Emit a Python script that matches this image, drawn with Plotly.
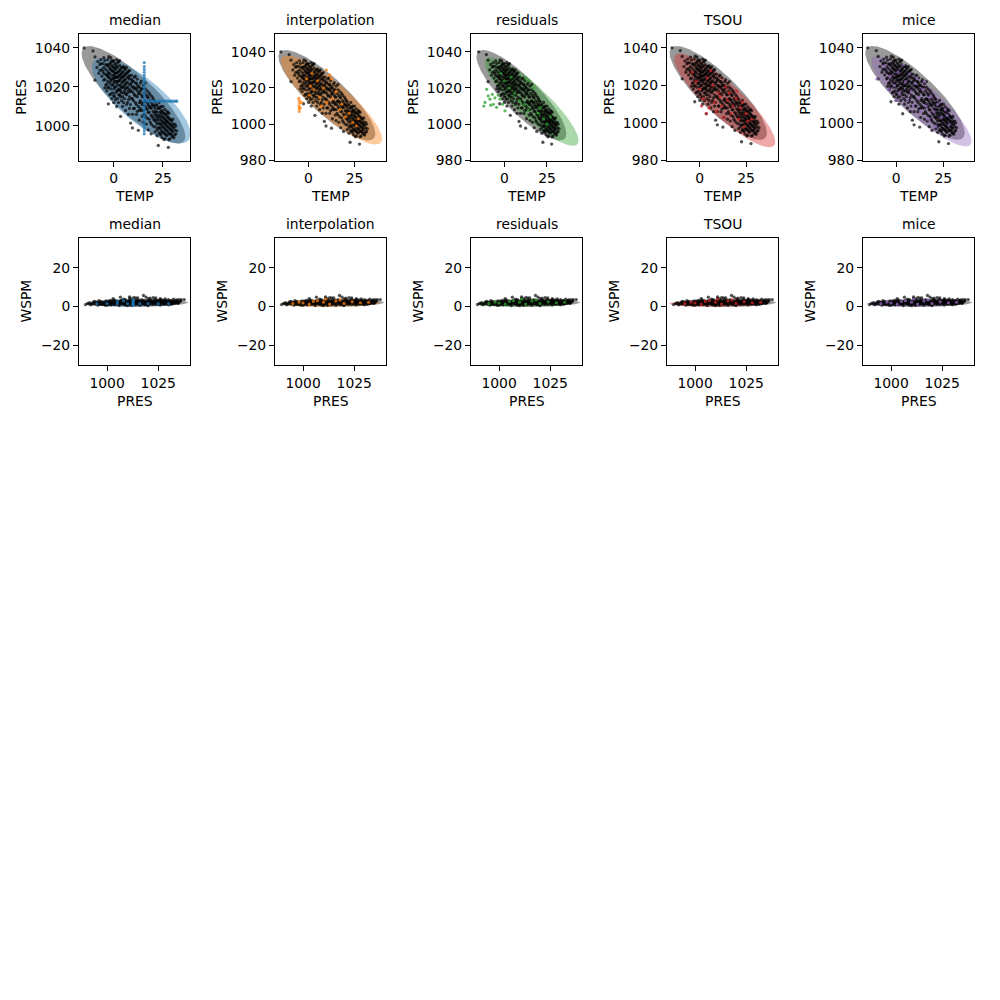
import numpy as np
import plotly.graph_objects as go

# ---------------- data ----------------
METHODS = ["median", "interpolation", "residuals", "TSOU", "mice"]
COLORS = ["#1f77b4", "#ff7f0e", "#2ca02c", "#d62728", "#9467bd"]

# observed (TEMP, PRES)
OBS_TEMP_PRES = [
    (-15.0, 1040.0), (-10.5, 1038.5), (-9.5, 1035.4), (-9.5, 1023.5), (-8, 1033), (-7, 1031.5), (-6.5, 1034),
    (-6, 1029), (-7.5, 1027), (-6, 1025.5),
    (-5.5, 1032), (-5, 1030), (-5, 1027), (-4.5, 1033.5), (-4.5, 1024), (-4, 1029), (-4, 1021), (-3.5, 1031),
    (-3.5, 1026), (-3.5, 1018), (-3, 1034), (-3, 1028), (-3, 1023), (-2.5, 1030.5), (-2.5, 1025), (-2.5, 1020),
    (-2.7, 1011.3), (-2, 1032), (-2, 1027), (-2, 1016),
    (-1.5, 1035), (-1.5, 1029), (-1.5, 1023), (-1.5, 1019), (-1, 1031), (-1, 1026), (-1, 1021), (-1, 1014),
    (-0.5, 1033), (-0.5, 1028), (-0.5, 1024), (-0.5, 1017), (0, 1030), (0, 1026), (0, 1022), (0, 1019), (0, 1012),
    (0.5, 1032), (0.5, 1027), (0.5, 1023), (0.5, 1015), (1, 1029), (1, 1025), (1, 1020), (1, 1017), (1.5, 1034),
    (1.5, 1027), (1.5, 1022), (1.5, 1018), (1.5, 1010), (2, 1030), (2, 1025), (2, 1021), (2, 1014),
    (2.5, 1028), (2.5, 1023), (2.5, 1019), (2.5, 1012), (3, 1031), (3, 1026), (3, 1021), (3, 1016), (3.5, 1004.9),
    (3.5, 1029), (3.5, 1024), (3.5, 1018), (4, 1027), (4, 1022), (4, 1013), (4.5, 1030), (4.5, 1025), (4.5, 1020),
    (4.5, 1010), (5, 1028), (5, 1023), (5, 1017), (5.5, 1026), (5.5, 1021), (5.5, 1014), (6, 1029), (6, 1024),
    (6, 1019), (6, 1008),
    (6.5, 1027), (6.5, 1022), (6.5, 1016), (7, 1025), (7, 1020), (7, 1012), (7.5, 1028), (7.5, 1018), (7.5, 1006),
    (8, 1024), (8, 1015), (8.6, 1001.5), (8.5, 1021), (8.5, 1011), (9, 1026), (9, 1018), (9.5, 999), (9.5, 1023),
    (9.5, 1014), (10, 1020), (10, 1009),
    (10.5, 1025), (10.5, 1016), (11, 1022), (11, 1012), (11.5, 1019), (11.5, 1006), (12, 1024), (12, 1015),
    (12.5, 997.8), (12.5, 1020), (12.5, 1010), (13, 1017), (13, 1003), (13.5, 1022), (13.5, 1013), (14, 1019),
    (14, 1008), (14.5, 1015), (15, 1021), (15, 1011), (15, 1002),
    (15.5, 1017), (15.5, 1006), (16, 1013), (16, 1019), (16.5, 1009), (16.5, 1001), (17, 1015), (17, 1004),
    (17.5, 1011), (17.5, 998), (18, 1017), (18, 1007), (18.5, 1013), (18.5, 1002), (19, 1009), (19, 996),
    (19.5, 1015), (19.5, 1005), (20, 1011), (20, 1000), (20.5, 1007), (20.5, 1013),
    (21, 1003), (21, 1009), (21, 997), (21.5, 1011), (21.5, 1005), (22, 1001), (22, 1007), (22, 995), (22.6, 990),
    (22.5, 1009), (22.5, 1003), (23, 999), (23, 1005), (23, 1012), (23.5, 1001), (23.5, 996), (23.5, 1007),
    (24, 1003), (24, 998), (24, 1010), (24.5, 1005), (24.5, 1000), (24.5, 994), (25, 1002), (25, 1007), (25, 997),
    (25.5, 1004), (25.5, 999), (25.5, 993), (26, 1001), (26, 1006), (26, 996), (26.5, 1003), (26.5, 998),
    (27, 1000), (27, 1005), (27, 995), (27.7, 989), (27.5, 1002), (27.5, 997), (28, 999), (28, 1004), (28, 993),
    (28.5, 1001), (28.5, 996), (29, 998), (29, 1003), (29.5, 995), (29.5, 1000), (30, 997), (30, 1001),
    (30.5, 994), (31, 998), (31.5, 996),
    (-4, 1031.5), (-3, 1025.5), (-2, 1022), (-1, 1028.5), (0, 1033.5), (0, 1024.5), (0.5, 1020), (1, 1031.5),
    (1, 1023), (2, 1027.5), (2, 1018), (2.5, 1033), (3, 1028.5), (3, 1023.5), (3.5, 1020.5), (4, 1025), (4, 1017),
    (4.5, 1027.5), (5, 1020), (5.5, 1029.5), (5.5, 1018), (6, 1026.5), (6, 1021.5), (7, 1027.5), (7, 1017),
    (8, 1026), (8, 1019), (9, 1022), (10, 1017), (11, 1019.5),
    (18, 1010), (19, 1012), (20, 1004), (20.5, 1010), (21, 1006), (22, 1004), (22.5, 999), (23, 1009),
    (23.5, 1004), (24, 1006), (24.5, 1008), (25, 1004.5), (25.5, 1001.5), (26, 1003.5), (26.5, 1000.5),
    (26.5, 1006), (27, 1002.5), (27.5, 1007), (28, 1001.5), (28.5, 998.5), (29, 1000.5), (30, 999), (31, 1001),
    (24, 995.5), (26, 993.5),
    (12, 1018), (13, 1012), (14, 1016), (14.5, 1011), (15, 1008), (16, 1010), (17, 1012), (17.5, 1007),
    (13.5, 1009), (16.5, 1016),
    (-8.5, 1030), (-7, 1028.5), (-6.5, 1032), (-5.5, 1028), (-5, 1023.5), (-5, 1035), (-4.5, 1019.5),
    (-4, 1026.5), (-3.5, 1021.5), (-3, 1031.5), (-3, 1019.5), (-2.5, 1035.5), (-2.5, 1027), (-2, 1024.5),
    (-2, 1029.5), (-1.5, 1032.5), (-1.5, 1016.5), (-1, 1024), (-1, 1033.5), (-0.5, 1021), (-0.5, 1030.5),
    (0, 1028), (0, 1015.5), (0.5, 1025), (0.5, 1029.5), (1, 1027), (1, 1013.5), (1.5, 1025), (1.5, 1030.5),
    (2, 1023), (2, 1032.5), (2.5, 1025.5), (2.5, 1016), (3, 1033.5), (3, 1018.5), (3.5, 1026.5), (3.5, 1015),
    (4, 1030), (4, 1019.5), (4.5, 1022.5), (4.5, 1015), (5, 1025.5), (5, 1030.5), (5, 1012), (5.5, 1023.5),
    (6, 1016.5), (6.5, 1030), (6.5, 1019.5), (6.5, 1011), (7, 1022.5), (7.5, 1025), (7.5, 1013.5), (8, 1028.5),
    (8, 1021.5), (8, 1009), (8.5, 1017.5), (9, 1024), (9, 1014), (9.5, 1020), (9.5, 1006), (10, 1023),
    (10, 1013), (10.5, 1019), (10.5, 1009), (11, 1025.5), (11, 1015.5), (11.5, 1022), (11.5, 1011), (12, 1021),
    (12, 1007.5), (12.5, 1016.5), (13, 1020), (13, 1008), (13.5, 1018), (14, 1023), (14, 1012), (14.5, 1019),
    (14.5, 1005), (15, 1015), (15.5, 1012.5), (16, 1022), (16, 1005), (16.5, 1012.5), (17, 1018), (17, 1008.5),
    (17.5, 1014.5), (18, 1003.5), (18.5, 1009.5), (18.5, 1016), (19, 1005.5), (19, 1001), (19.5, 1010.5),
    (20, 1007.5), (20, 1014), (20.5, 1003), (21, 999.5), (21, 1012.5), (21.5, 1007.5), (21.5, 1002),
    (22, 1010.5), (22, 998), (22.5, 1005.5), (23, 1001.5), (23, 996.5), (23.5, 1009.5), (23.5, 999),
    (24, 1001), (24, 1007.5), (24.5, 1002.5), (24.5, 997), (25, 999.5), (25, 1010), (25.5, 1006.5),
    (25.5, 996.5), (26, 998.5), (26, 1008.5), (26.5, 1002), (26.5, 995.5), (27, 997.5), (27, 1007.5),
    (27.5, 999.5), (27.5, 1004.5), (28, 996), (28, 1006.5), (28.5, 1003.5), (28.5, 993.5), (29, 996),
    (29.5, 1002.5), (29.5, 997.5), (30, 994.5), (30, 1003.5), (30.5, 999.5), (31, 995.5), (31.5, 1000),
    (32, 997.5),
]

# observed (PRES, WSPM)
OBS_PRES_WSPM = [
    (989.5, 1.0), (991, 1.4), (992, 0.9), (993, 1.8), (994, 1.2), (995, 2.2), (995.5, 0.7), (996, 1.5), (997, 2.6),
    (997.5, 1.0), (998, 1.9), (999, 0.6), (999.5, 2.9), (1000, 1.3), (1000.5, 2.2), (1001, 1.7), (1001.5, 3.1),
    (1002, 0.9), (1002.5, 2.5), (1003, 1.4), (1003.5, 3.4), (1004, 2.0), (1004.5, 1.1), (1005, 2.8), (1005.5, 1.6),
    (1006, 0.5), (1006.5, 4.8), (1006, 2.3), (1007, 3.2), (1007.5, 1.3), (1008, 2.0), (1008.5, 2.7), (1009, 0.8),
    (1009, 3.6), (1009.5, 1.7), (1010, 2.4), (1010.5, 1.2), (1011, 3.0), (1011.5, 2.0), (1012, 0.6), (1012, 3.9),
    (1012.5, 1.5), (1013, 2.6), (1013.5, 1.0), (1014, 3.3), (1014.5, 2.1), (1015, 1.4), (1015, 4.4), (1015.5, 2.8),
    (1016, 0.7), (1016.5, 1.9), (1017, 3.6), (1017.5, 2.4), (1017.8, 5.7), (1018, 1.2), (1018.5, 3.0), (1019, 2.0),
    (1019.5, 0.9), (1020, 4.1), (1020, 2.6), (1020.5, 1.6), (1021, 3.4), (1021.5, 2.2), (1022, 1.1), (1022.5, 4.6),
    (1022.5, 2.9), (1023, 1.8), (1023.5, 3.7), (1023.8, 4.4), (1024, 2.4), (1024.5, 1.3), (1025, 3.1), (1025.5, 2.0),
    (1026, 0.8), (1026, 4.0), (1026.5, 2.7), (1027, 1.6), (1027.5, 3.4), (1028, 2.2), (1028.4, 3.9), (1028.5, 1.2),
    (1029, 2.9), (1029.5, 1.8), (1030, 3.6), (1030.5, 2.4), (1031, 1.4), (1031.5, 3.1), (1032, 2.0), (1032.5, 3.8),
    (1033, 1.7), (1033.5, 2.7), (1034, 3.4), (1034.5, 2.2), (1035, 3.6), (1036.2, 3.6), (1037.7, 3.6), (1030, 0.9),
    (1020, 0.5), (1010, 0.4), (1000, 0.7), (994, 2.6), (996, 3.0), (1003, 4.1), (1013, 4.6), (1019, 4.9), (1011, 5.0),
    (1000, 1.9), (1002, 1.3), (1004, 2.6), (1006, 1.8), (1008, 1.4), (1010, 1.9), (1012, 2.3), (1014, 1.6),
    (1016, 2.3), (1018, 1.7), (1020, 2.0), (1022, 2.5), (1024, 1.9), (1026, 2.3), (1028, 2.6), (1030, 2.0),
    (1032, 2.8), (1005, 2.1), (1015, 2.6), (1025, 1.7),
    (990.5, 1.6), (991.5, 2.0), (992.5, 1.2), (993.5, 2.4), (994.5, 1.6), (995.5, 1.9), (996.5, 1.1), (996.5, 2.3),
    (997.5, 1.6), (998.5, 2.4), (998.5, 1.2), (999.5, 1.8), (1000.5, 1.0), (1000.5, 2.8), (1001.5, 1.4),
    (1001.5, 2.3), (1002.5, 1.8), (1002.5, 3.0), (1003.5, 1.0), (1003.5, 2.2), (1004.5, 1.7), (1004.5, 2.9),
    (1005.5, 1.2), (1005.5, 2.4), (1006.5, 1.5), (1006.5, 2.9), (1007.5, 1.9), (1007.5, 2.5), (1008.5, 1.1),
    (1008.5, 3.2), (1009.5, 2.1), (1009.5, 1.3), (1010.5, 2.8), (1010.5, 1.6), (1011.5, 1.1), (1011.5, 2.6),
    (1012.5, 2.0), (1012.5, 3.1), (1013.5, 1.7), (1013.5, 2.4), (1014.5, 1.2), (1014.5, 2.9), (1015.5, 1.8),
    (1015.5, 3.3), (1016.5, 1.1), (1016.5, 2.6), (1017.5, 1.6), (1017.5, 3.0), (1018.5, 2.1), (1018.5, 1.0),
    (1019.5, 2.6), (1019.5, 1.6), (1020.5, 2.9), (1020.5, 1.1), (1021.5, 1.8), (1021.5, 3.0), (1022.5, 1.4),
    (1022.5, 2.2), (1023.5, 2.6), (1023.5, 1.1), (1024.5, 2.0), (1024.5, 3.0), (1025.5, 1.3), (1025.5, 2.6),
    (1026.5, 1.8), (1026.5, 3.2), (1027.5, 1.1), (1027.5, 2.4), (1028.5, 1.8), (1028.5, 3.0), (1029.5, 1.3),
    (1029.5, 2.5), (1030.5, 1.7), (1030.5, 3.0), (1031.5, 2.2), (1031.5, 1.1), (1032.5, 1.5), (1032.5, 2.4),
    (1033.5, 1.9), (1033.5, 3.1), (1034.5, 1.6), (1034.5, 2.8), (1035.5, 2.4), (1036, 3.0), (1035, 1.9),
    (1011, 4.2), (1014, 4.5), (1021, 4.3), (1026, 3.6), (1008, 3.8),
]

# imputed (TEMP, PRES) per method
IMP_MEDIAN = [
    (15.5, 996), (15.5, 997.5), (15.5, 999), (15.5, 1000.5), (15.5, 1002), (15.5, 1003.5), (15.5, 1005),
    (15.5, 1006.5), (15.5, 1008), (15.5, 1009.5), (15.5, 1011), (15.5, 1012.7), (15.5, 1014), (15.5, 1015.5),
    (15.5, 1017), (15.5, 1018.5), (15.5, 1020), (15.5, 1021.5), (15.5, 1023), (15.5, 1024.5), (15.5, 1026),
    (15.5, 1027.5), (15.5, 1029), (15.5, 1030.5), (15.5, 1032.5),
    (16.5, 1012.7), (17.5, 1012.7), (18.5, 1012.7), (19.5, 1012.7), (20.5, 1012.7), (21.5, 1012.7),
    (22.5, 1012.7), (23.5, 1012.7), (24.5, 1012.7), (25.5, 1012.7), (26.5, 1012.7), (27.5, 1012.7),
    (28.5, 1012.7), (29.5, 1012.7), (30.5, 1012.7), (31.5, 1012.7), (32.0, 1012.7),
]
IMP_INTERP = [
    (-5, 1007), (-5, 1008.5), (-5.2, 1010), (-4.8, 1011.5), (-5, 1013), (-5.3, 1014.3), (-4.5, 1009),
    (-3.8, 1012), (9.7, 1029.9), (11.5, 1027.2), (12.4, 1025.3), (0.5, 1016), (3, 1019), (6, 1015), (8, 1020),
    (10, 1012), (13, 1014), (17, 1008), (20, 1004), (22, 1006), (24, 1001), (26, 999), (-1, 1025), (2, 1028),
    (5, 1024), (15, 1018), (18, 1011), (27, 1003), (1, 1021), (7, 1010),
]
IMP_RESID = [
    (-10.3, 1019.3), (-8.4, 1013.8), (-11.3, 1012), (-6.4, 1011), (-4.5, 1009.3), (0.4, 1007.4), (-9.4, 1015.6),
    (-2.5, 1013.8), (-7, 1016.5), (-5.5, 1014.5), (-12, 1010), (-8, 1010.5), (-3.5, 1016), (-1, 1011),
    (14, 1024), (12.5, 1025.5), (17, 1020), (3, 1020), (6, 1017), (9, 1013), (12, 1011), (20, 1006),
    (23, 1003), (25, 1000), (27, 1004), (0, 1024), (4, 1026), (-2, 1028), (21, 1009), (14, 1008),
]
IMP_TSOU = [
    (3.6, 1005), (19.7, 1013), (5, 1008), (8, 1011), (12, 1009), (15, 1012), (17, 1005), (22, 1008), (25, 1005),
    (28, 1002), (10, 1016), (14, 1019), (2, 1013), (0, 1018), (-2, 1022), (4, 1024), (7, 1020), (11, 1014),
    (18, 1009), (21, 1002), (24, 998), (26, 1001), (13, 1003), (16, 1016), (9, 1006), (1, 1009), (-4, 1027),
    (6, 1028), (20, 1017), (23, 1011),
]
IMP_MICE = [
    (-10.2, 1023.4), (3.9, 1031), (-3, 1025), (-1, 1020), (1, 1027), (2, 1016), (5, 1022), (7, 1026), (8, 1017),
    (10, 1021), (12, 1013), (14, 1018), (16, 1009), (18, 1014), (20, 1006), (22, 1010), (24, 1003), (26, 1007),
    (28, 999), (27, 1004), (-6, 1030), (6, 1012), (9, 1009), (13, 1006), (17, 1002), (21, 998), (-4, 1018),
    (0, 1012), (11, 1024), (15, 1022),
]
IMP_ROW1 = [IMP_MEDIAN, IMP_INTERP, IMP_RESID, IMP_TSOU, IMP_MICE]

# imputed (PRES, WSPM) per method
IMP2_MEDIAN = [
    (1012.7, 0.6), (1012.7, 1.1), (1012.7, 1.7), (1012.7, 2.3), (1012.7, 2.9), (1012.7, 3.5), (995, 1.5),
    (1000, 1.5), (1005, 1.5), (1010, 1.5), (1016, 1.5), (1020, 1.5), (1025, 1.5), (1030, 1.5), (1005, 2.6),
    (1008, 2.9),
]
IMP2_OTHER = [
    (1000, 1.8), (1005, 2.6), (1007, 3.0), (1010, 2.2), (1013, 1.3), (1016, 2.8), (1020, 1.6), (1024, 2.4),
    (1028, 1.9), (1003, 1.2), (995, 1.5), (1018, 3.4), (1011, 3.8), (1032, 2.2), (998, 2.3),
]
IMP_ROW2 = [IMP2_MEDIAN, IMP2_OTHER, IMP2_OTHER, IMP2_OTHER, IMP2_OTHER]

# covariance ellipses: (centre x, centre y, half extent x, half extent y, correlation)
ELL_OBS_ROW1 = (10.0, 1016.0, 26.3, 25.0, -0.85)
ELL_IMP_ROW1 = [
    (14.0, 1013.0, 25.0, 22.0, -0.78),
    (12.5, 1013.4, 27.5, 24.7, -0.87),
    (16.0, 1012.5, 27.5, 24.5, -0.88),
    (13.5, 1012.0, 27.3, 25.0, -0.88),
    (13.4, 1011.5, 26.5, 24.0, -0.88),
]
ELL_OBS_ROW2 = (1015.0, 1.8, 24.5, 2.0, 0.12)
ELL_IMP_ROW2 = [
    (1013.0, 1.7, 22.0, 1.9, 0.1),
    (1013.4, 1.7, 24.0, 2.0, 0.1),
    (1012.5, 1.7, 24.0, 2.0, 0.1),
    (1012.0, 1.7, 24.5, 2.0, 0.1),
    (1011.5, 1.7, 23.5, 2.0, 0.1),
]

# ---------------- layout geometry ----------------
W = H = 1000
COL_LEFT = [79, 275, 471, 667, 863]
PANEL_W = 111
ROW_TOP = [34, 240]
PANEL_H = 128
XRANGES = [[-17.6, 38.7], [-18.2, 42.1], [-19.5, 45.5], [-17.7, 42.3], [-17.5, 41.2]]
YRANGES = [[982.2, 1047.3], [979.8, 1050], [979.8, 1050], [979.9, 1047.5], [979.9, 1047.5]]
XRANGE2 = [986.3, 1040.5]
YRANGE2 = [-30.3, 35.4]

FONT = "DejaVu Sans"
FS = 13.9


def hex_rgba(h, a):
    h = h.lstrip("#")
    return "rgba(%d,%d,%d,%.3f)" % (int(h[0:2], 16), int(h[2:4], 16), int(h[4:6], 16), a)


def ellipse(params, n=200):
    cx, cy, ax, ay, rho = params
    t = np.linspace(0, 2 * np.pi, n)
    x = cx + ax * np.cos(t)
    y = cy + ay * (rho * np.cos(t) + np.sqrt(1 - rho ** 2) * np.sin(t))
    return x, y


fig = go.Figure()
annotations = []

for k in range(10):
    r, c = divmod(k, 5)
    idx = k + 1
    xa = "x" if idx == 1 else "x%d" % idx
    ya = "y" if idx == 1 else "y%d" % idx
    color = COLORS[c]

    if r == 0:
        obs = OBS_TEMP_PRES
        imp = IMP_ROW1[c]
        e_obs = ELL_OBS_ROW1
        e_imp = ELL_IMP_ROW1[c]
        xt, yt = "TEMP", "PRES"
        xr, yr = XRANGES[c], YRANGES[c]
    else:
        obs = OBS_PRES_WSPM
        imp = IMP_ROW2[c]
        e_obs = ELL_OBS_ROW2
        e_imp = ELL_IMP_ROW2[c]
        xt, yt = "PRES", "WSPM"
        xr, yr = XRANGE2, YRANGE2

    ex, ey = ellipse(e_obs)
    fig.add_trace(go.Scatter(x=ex, y=ey, mode="lines", fill="toself", line=dict(width=0),
                             fillcolor="rgba(128,128,128,0.8)", hoverinfo="skip", showlegend=False,
                             xaxis=xa, yaxis=ya))
    ex, ey = ellipse(e_imp)
    fig.add_trace(go.Scatter(x=ex, y=ey, mode="lines", fill="toself", line=dict(width=0),
                             fillcolor=hex_rgba(color, 0.4), hoverinfo="skip", showlegend=False,
                             xaxis=xa, yaxis=ya))
    ox, oy = zip(*obs)
    fig.add_trace(go.Scatter(x=ox, y=oy, mode="markers",
                             marker=dict(size=3.3, color="rgba(0,0,0,0.68)", line=dict(width=0)),
                             showlegend=False, xaxis=xa, yaxis=ya))
    ix, iy = zip(*imp)
    fig.add_trace(go.Scatter(x=ix, y=iy, mode="markers",
                             marker=dict(size=3.2, color=hex_rgba(color, 0.75), line=dict(width=0)),
                             showlegend=False, xaxis=xa, yaxis=ya))

    left = COL_LEFT[c]
    top = ROW_TOP[r]
    xd = [left / W, (left + PANEL_W) / W]
    yd = [1 - (top + PANEL_H) / H, 1 - top / H]

    axis_common = dict(showline=True, linecolor="black", linewidth=1, mirror=True, ticks="outside",
                       ticklen=5, tickwidth=1, tickcolor="black", showgrid=False, zeroline=False,
                       tickfont=dict(family=FONT, size=FS, color="black"), fixedrange=True)
    fig.layout["xaxis" if idx == 1 else "xaxis%d" % idx] = dict(
        domain=xd, anchor=ya, range=xr, tick0=0, dtick=25, **axis_common)
    fig.layout["yaxis" if idx == 1 else "yaxis%d" % idx] = dict(
        domain=yd, anchor=xa, range=yr, tick0=0, dtick=20, **axis_common)

    cxp = (left + PANEL_W / 2) / W
    annotations.append(dict(text=METHODS[c], x=cxp, y=yd[1], xref="paper", yref="paper",
                            xanchor="center", yanchor="bottom", yshift=4, showarrow=False,
                            font=dict(family=FONT, size=FS, color="black")))
    annotations.append(dict(text=xt, x=cxp, y=yd[0], xref="paper", yref="paper",
                            xanchor="center", yanchor="middle", yshift=-35.5, showarrow=False,
                            font=dict(family=FONT, size=FS, color="black")))
    annotations.append(dict(text=yt, x=left / W, y=(yd[0] + yd[1]) / 2, xref="paper", yref="paper",
                            xanchor="center", yanchor="middle", xshift=-(57.5 if r == 0 else 53),
                            textangle=-90, showarrow=False,
                            font=dict(family=FONT, size=FS, color="black")))

fig.update_layout(width=W, height=H, margin=dict(l=0, r=0, t=0, b=0), autosize=False,
                  paper_bgcolor="white", plot_bgcolor="white", annotations=annotations,
                  font=dict(family=FONT, size=FS, color="black"))

fig.write_html("out.html")
